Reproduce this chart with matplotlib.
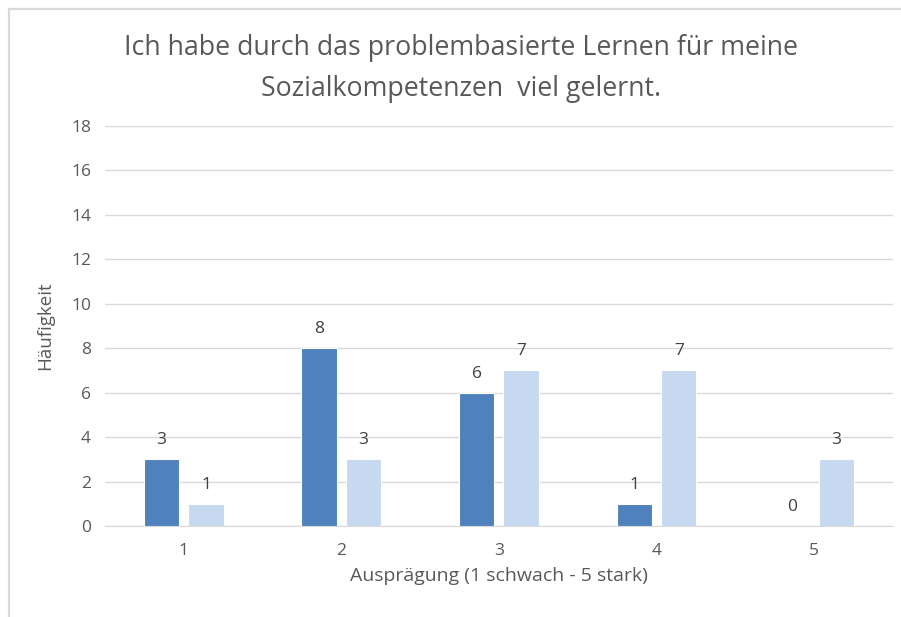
import matplotlib
matplotlib.use("Agg")
import matplotlib.pyplot as plt
import matplotlib.patches as patches
import numpy as np

plt.rcParams['font.family'] = ['Open Sans', 'DejaVu Sans']

# chart data
categories = ["1", "2", "3", "4", "5"]
series_a = [3, 8, 6, 1, 0]
series_b = [1, 3, 7, 7, 3]
y_ticks = [0, 2, 4, 6, 8, 10, 12, 14, 16, 18]

title = "Ich habe durch das problembasierte Lernen für meine\nSozialkompetenzen  viel gelernt."
xlabel = "Ausprägung (1 schwach - 5 stark)"
ylabel = "Häufigkeit"

dark = "#4F81BD"
light = "#C6D9F0"
grey = "#595959"

fig = plt.figure(figsize=(9.01, 6.17), dpi=100)
ax = fig.add_axes([0.1165, 0.1475, 0.8745, 0.6483])

x = np.arange(len(categories))
w = 0.225
off = 0.141
bars_a = ax.bar(x - off, series_a, w, color=dark, edgecolor="white", linewidth=0.8, zorder=3)
bars_b = ax.bar(x + off, series_b, w, color=light, edgecolor="white", linewidth=0.8, zorder=3)

# value labels
for bars, vals in ((bars_a, series_a), (bars_b, series_b)):
    for b, v in zip(bars, vals):
        ax.annotate(str(v), (b.get_x() + b.get_width() / 2, v), xytext=(0, 8),
                    textcoords="offset points", ha="center", va="bottom",
                    fontsize=12.5, color="#404040")

ax.set_xlim(-0.5, len(categories) - 0.5)
ax.set_ylim(0, 18)
ax.set_yticks(y_ticks)
ax.set_xticks(x)
ax.set_xticklabels(categories)
ax.yaxis.grid(True, color="#D9D9D9", linewidth=1, zorder=0)
ax.tick_params(axis="both", length=0, labelsize=12.5, labelcolor=grey)
ax.tick_params(axis="x", pad=12)
ax.tick_params(axis="y", pad=10)
for s in ["top", "right", "left"]:
    ax.spines[s].set_visible(False)
ax.spines["bottom"].set_color("#D9D9D9")

ax.set_xlabel(xlabel, fontsize=14, color=grey, labelpad=6)
ax.set_ylabel(ylabel, fontsize=13.5, color=grey, labelpad=12)

fig.text(0.512, 0.889, title, ha="center", va="center", fontsize=19.3,
         color=grey, linespacing=1.6)

# chart border
border = patches.Rectangle((8.5 / 901, -0.1), 1.2, 1 - 8.5 / 617 + 0.1,
                           transform=fig.transFigure, fill=False,
                           edgecolor="#D9D9D9", linewidth=1.6)
fig.patches.append(border)

fig.savefig("out.png", dpi=100)
